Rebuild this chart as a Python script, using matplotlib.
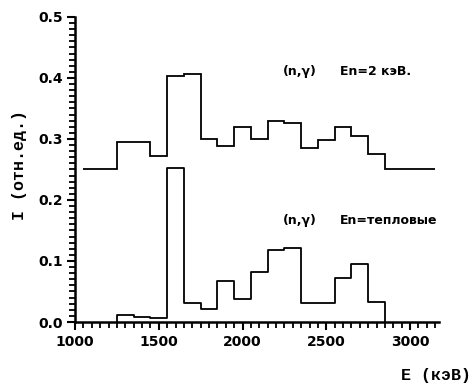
import numpy as np
import matplotlib.pyplot as plt
from matplotlib.ticker import MultipleLocator

# bin edges (keV) and intensities
edges_2kev = [1050, 1250, 1450, 1550, 1650, 1750, 1850, 1950, 2050, 2150,
              2250, 2350, 2450, 2550, 2650, 2750, 2850, 3150]
vals_2kev = [0.25, 0.295, 0.272, 0.403, 0.407, 0.30, 0.288, 0.32, 0.30,
             0.33, 0.327, 0.286, 0.298, 0.32, 0.305, 0.276, 0.25]

edges_th = [1250, 1350, 1450, 1550, 1650, 1750, 1850, 1950, 2050, 2150,
            2250, 2350, 2550, 2650, 2750, 2850]
vals_th = [0.012, 0.008, 0.006, 0.252, 0.031, 0.022, 0.067, 0.038, 0.082,
           0.118, 0.121, 0.031, 0.072, 0.095, 0.033]

fig = plt.figure(figsize=(4.73, 3.86), dpi=100)
ax = fig.add_axes([0.1586, 0.1658, 0.7695, 0.7902])

# upper spectrum: plain step line, no end walls
ax.stairs(vals_2kev, edges_2kev, baseline=None, color='black', linewidth=1.3)
# lower spectrum: drops to zero at the ends
x_th = np.repeat(edges_th, 2)
y_th = np.concatenate([[0], np.repeat(vals_th, 2), [0]])
ax.plot(x_th, y_th, color='black', linewidth=1.3)

ax.set_xlim(1000, 3173)
ax.set_ylim(0, 0.5)
ax.spines['top'].set_visible(False)
ax.spines['right'].set_visible(False)
ax.spines['left'].set_linewidth(1.8)
ax.spines['bottom'].set_linewidth(1.8)

ax.xaxis.set_major_locator(MultipleLocator(500))
ax.xaxis.set_minor_locator(MultipleLocator(50))
ax.yaxis.set_major_locator(MultipleLocator(0.1))
ax.yaxis.set_minor_locator(MultipleLocator(0.01))
ax.yaxis.set_major_formatter(plt.FormatStrFormatter('%.1f'))
ax.tick_params(which='major', length=6, width=1.5, labelsize=10, pad=3)
ax.tick_params(which='minor', length=4, width=1.3)
for lab in ax.get_xticklabels() + ax.get_yticklabels():
    lab.set_fontweight('bold')

# annotations
ax.text(2242, 0.41, '(n,\u03b3)', fontsize=9, fontweight='bold', va='center')
ax.text(2582, 0.41, 'En=2 кэВ.', fontsize=9, fontweight='bold', va='center')
ax.text(2242, 0.166, '(n,\u03b3)', fontsize=9, fontweight='bold', va='center')
ax.text(2582, 0.166, 'En=тепловые', fontsize=9, fontweight='bold', va='center')

fig.text(0.042, 0.573, 'I (отн.ед.)', rotation=90, ha='center', va='center',
         fontsize=12, fontweight='bold', family='Liberation Mono')
fig.text(0.995, 0.026, 'E (кэВ)', ha='right', va='center',
         fontsize=12, fontweight='bold', family='Liberation Mono')

fig.savefig('out.png', dpi=100)
